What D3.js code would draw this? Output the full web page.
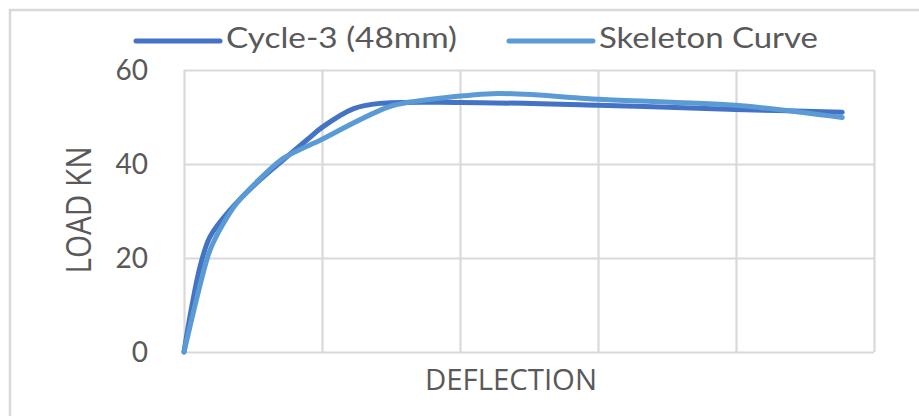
<!DOCTYPE html>
<html>
<head>
<meta charset="utf-8">
<script src="https://cdn.jsdelivr.net/npm/d3@7"></script>
<style>
  html, body { margin: 0; padding: 0; background: #fff; }
  svg { display: block; }
</style>
</head>
<body>
<svg id="chart" width="919" height="416"></svg>
<script>
// ---- data ----
const seriesNames = ["Cycle-3 (48mm)", "Skeleton Curve"];
const cycle3Deflection = [0, 0.25, 0.56, 1.16, 1.88, 3.33, 5.5, 7.2, 8.9, 10.0, 12.3, 14.2, 20, 30, 40, 47.7];
const cycle3Load       = [0, 4.5, 9.6, 18.1, 24.5, 30.2, 36.6, 40.9, 45.1, 47.8, 51.8, 52.9, 53.1, 52.5, 51.6, 51.0];
const skeletonDeflection = [0, 1.8, 3.8, 7.0, 9.9, 15.2, 22.7, 30, 40, 47.7];
const skeletonLoad       = [0, 21.0, 31.6, 40.8, 45.1, 52.5, 55.0, 53.8, 52.5, 49.9];
const yTicks = [0, 20, 40, 60];
const xGridTicks = [0, 10, 20, 30, 40, 50];
const xTitle = "DEFLECTION";
const yTitle = "LOAD KN";

// ---- layout ----
const svg = d3.select("#chart");
const W = 919, H = 416;
const plot = { left: 184, right: 874, top: 70, bottom: 352 };
const textColor = "#595959";
const gridColor = "#d9d9d9";
const colors = ["#4472C4", "#5B9BD5"];

svg.append("rect").attr("width", W).attr("height", H).attr("fill", "#fff");
// chart area border (only top/left visible in reference)
svg.append("rect").attr("x", 10).attr("y", 10).attr("width", W + 20).attr("height", H + 20)
  .attr("fill", "none").attr("stroke", gridColor).attr("stroke-width", 2.5);

const x = d3.scaleLinear().domain([0, 50]).range([plot.left, plot.right]);
const y = d3.scaleLinear().domain([0, 60]).range([plot.bottom, plot.top]);

// horizontal gridlines + y labels
const yAxis = svg.append("g").attr("transform", `translate(${plot.left},0)`)
  .call(d3.axisLeft(y).tickValues(yTicks).tickSize(-(plot.right - plot.left)).tickPadding(36));
yAxis.select(".domain").remove();
yAxis.selectAll(".tick line").attr("stroke", gridColor).attr("stroke-width", 2.2);
yAxis.selectAll(".tick text")
  .attr("fill", textColor).attr("font-family", "Lato, 'Open Sans', sans-serif")
  .attr("font-size", 28).attr("dy", "0.33em").attr("x", -36)
  .attr("text-anchor", "end");

// vertical gridlines (no labels)
const xAxis = svg.append("g").attr("transform", `translate(0,${plot.bottom})`)
  .call(d3.axisBottom(x).tickValues(xGridTicks).tickSize(-(plot.bottom - plot.top)).tickFormat(""));
xAxis.select(".domain").remove();
xAxis.selectAll(".tick line").attr("stroke", gridColor).attr("stroke-width", 2.2);

// series
const cycleData = cycle3Deflection.map((d, i) => [d, cycle3Load[i]]);
const skelData = skeletonDeflection.map((d, i) => [d, skeletonLoad[i]]);
const lineCycle = d3.line().x(d => x(d[0])).y(d => y(d[1])).curve(d3.curveCatmullRom.alpha(0.5));
const lineSkel = d3.line().x(d => x(d[0])).y(d => y(d[1])).curve(d3.curveCardinal.tension(0.35));

[[cycleData, lineCycle], [skelData, lineSkel]].forEach(([data, gen], i) => {
  svg.append("path").datum(data).attr("d", gen)
    .attr("fill", "none").attr("stroke", colors[i]).attr("stroke-width", 5)
    .attr("stroke-linejoin", "round").attr("stroke-linecap", "round");
});

// legend
const legendItems = [
  { x1: 136, x2: 220, tx: 226, tl: 231 },
  { x1: 509, x2: 593, tx: 599, tl: 219 }
];
legendItems.forEach((L, i) => {
  svg.append("line").attr("x1", L.x1).attr("x2", L.x2).attr("y1", 41).attr("y2", 41)
    .attr("stroke", colors[i]).attr("stroke-width", 5).attr("stroke-linecap", "round");
  svg.append("text").attr("x", L.tx).attr("y", 48)
    .attr("font-family", "Lato, 'Open Sans', sans-serif").attr("font-size", 28)
    .attr("fill", textColor).attr("textLength", L.tl).attr("lengthAdjust", "spacingAndGlyphs")
    .text(seriesNames[i]);
});

// axis titles
svg.append("text").attr("x", 511).attr("y", 390).attr("text-anchor", "middle")
  .attr("font-family", "'Open Sans', sans-serif").attr("font-size", 30)
  .attr("fill", textColor).attr("textLength", 172).attr("lengthAdjust", "spacingAndGlyphs")
  .text(xTitle);

svg.append("text")
  .attr("transform", "translate(91,210) rotate(-90)")
  .attr("text-anchor", "middle")
  .attr("font-family", "'Open Sans', sans-serif").attr("font-size", 34)
  .attr("fill", textColor).attr("textLength", 127).attr("lengthAdjust", "spacingAndGlyphs")
  .text(yTitle);
</script>
</body>
</html>
